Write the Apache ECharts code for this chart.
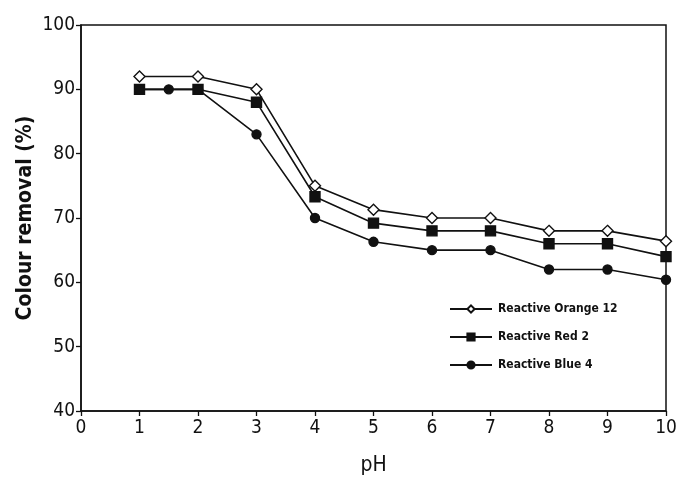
<!DOCTYPE html>
<html>
<head>
<meta charset="utf-8">
<script src="https://cdn.jsdelivr.net/npm/echarts@6/dist/echarts.min.js"></script>
<style>
  html, body { margin: 0; padding: 0; background: #fff; }
  #chart { width: 680px; height: 483px; }
</style>
</head>
<body>
<div id="chart"></div>
<script>
// pH values tested and colour removal (%) for each dye
const phOrange = [1, 2, 3, 4, 5, 6, 7, 8, 9, 10];
const orange12 = [92, 92, 90, 75, 71.3, 70, 70, 68, 68, 66.4];

const phRed = [1, 2, 3, 4, 5, 6, 7, 8, 9, 10];
const red2 = [90, 90, 88, 73.3, 69.2, 68, 68, 66, 66, 64];

const phBlue = [1, 1.5, 2, 3, 4, 5, 6, 7, 8, 9, 10];
const blue4 = [90, 90, 90, 83, 70, 66.3, 65, 65, 62, 62, 60.4];

const seriesNames = ['Reactive Orange 12', 'Reactive Red 2', 'Reactive Blue 4'];

const pair = (xs, ys) => xs.map((x, i) => [x, ys[i]]);

const FONT = '"DejaVu Sans Condensed", "Liberation Sans Narrow", "Liberation Sans", Arial, sans-serif';
const INK = '#111';

function lineSeries(name, data, symbol, fill, size) {
  return {
    name: name,
    type: 'line',
    data: data,
    symbol: symbol,
    symbolSize: size,
    showAllSymbol: true,
    lineStyle: { color: INK, width: 1.6 },
    itemStyle: { color: fill, borderColor: INK, borderWidth: 1.4 },
    emphasis: { disabled: true },
    animation: false
  };
}

const chart = echarts.init(document.getElementById('chart'), null, { renderer: 'canvas' });
chart.setOption({
  backgroundColor: '#fff',
  animation: false,
  grid: {
    left: 81, right: 14, top: 25, bottom: 72,
    outerBoundsMode: 'none',
    show: true, borderColor: INK, borderWidth: 1.5, backgroundColor: 'transparent'
  },
  legend: {
    orient: 'vertical',
    left: 444, top: 297,
    itemWidth: 42, itemHeight: 9, itemGap: 14,
    data: seriesNames,
    textStyle: { fontFamily: FONT, fontSize: 12, fontWeight: 'bold', lineHeight: 14, color: INK, padding: [0, 0, 0, 1] },
    inactiveColor: INK
  },
  xAxis: {
    type: 'value', min: 0, max: 10, interval: 1,
    name: 'pH', nameLocation: 'middle', nameGap: 44,
    nameMoveOverlap: false,
    nameTextStyle: { fontFamily: FONT, fontSize: 21, color: INK },
    axisLine: { show: true, lineStyle: { color: INK, width: 1.5 } },
    axisTick: { show: true, inside: false, length: 5, lineStyle: { color: INK, width: 1.3 } },
    axisLabel: { fontFamily: FONT, fontSize: 19, color: INK, margin: 8 },
    splitLine: { show: false }
  },
  yAxis: {
    type: 'value', min: 40, max: 100, interval: 10,
    name: 'Colour removal (%)', nameLocation: 'middle', nameGap: 45,
    nameMoveOverlap: false,
    nameTextStyle: { fontFamily: FONT, fontSize: 21, fontWeight: 'bold', color: INK },
    axisLine: { show: true, lineStyle: { color: INK, width: 1.5 } },
    axisTick: { show: true, inside: false, length: 5, lineStyle: { color: INK, width: 1.3 } },
    axisLabel: { fontFamily: FONT, fontSize: 19, color: INK, margin: 6 },
    splitLine: { show: false }
  },
  series: [
    lineSeries(seriesNames[0], pair(phOrange, orange12), 'diamond', '#fff', 11),
    lineSeries(seriesNames[1], pair(phRed, red2), 'rect', INK, 10),
    lineSeries(seriesNames[2], pair(phBlue, blue4), 'circle', INK, 9)
  ]
});
</script>
</body>
</html>
